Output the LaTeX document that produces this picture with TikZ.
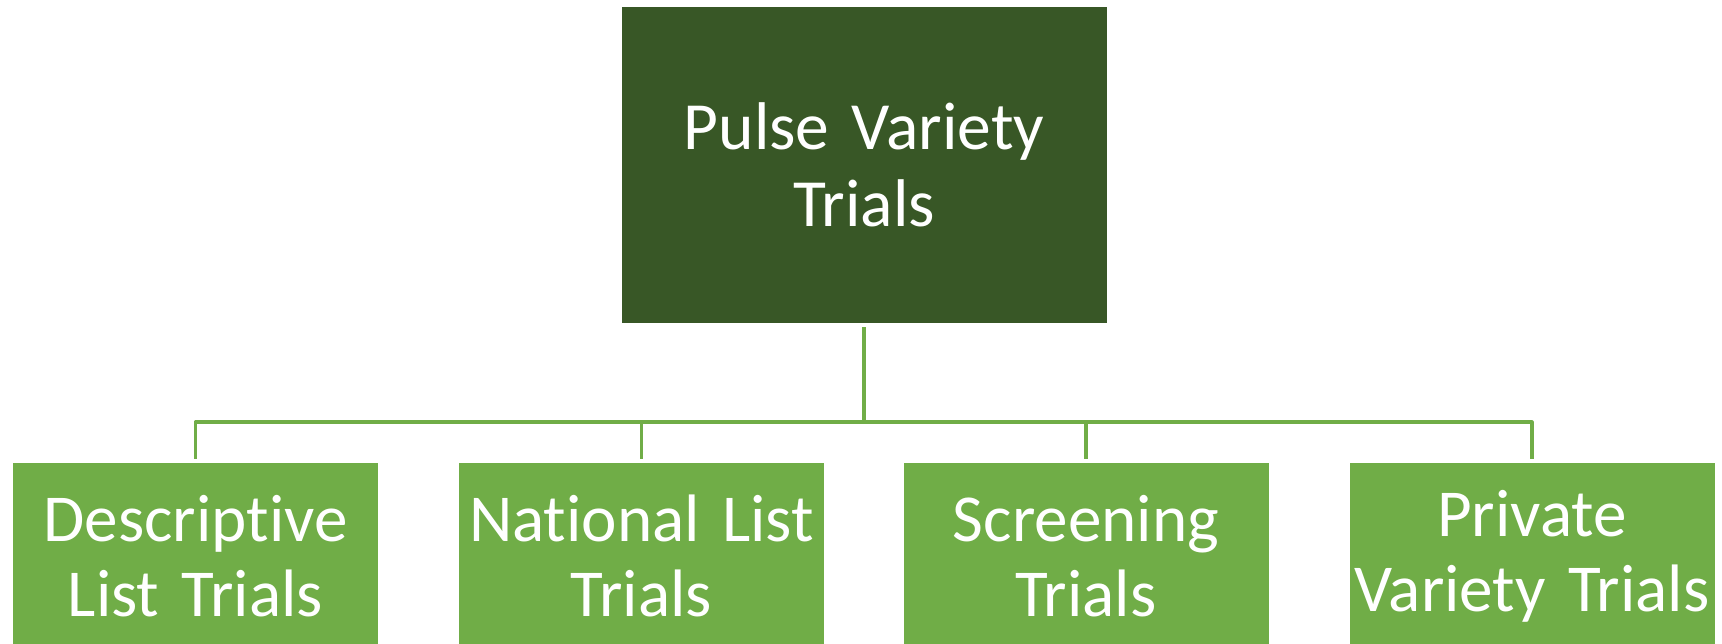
\documentclass[tikz,border=0pt]{standalone}
\usepackage{fontspec}
\setmainfont{Carlito}[Ligatures=NoCommon]
\definecolor{topgreen}{RGB}{56,87,38}
\definecolor{leafgreen}{RGB}{112,173,71}
\tikzset{
  headbox/.style={fill=topgreen,text=white,minimum width=4.85cm,minimum height=3.16cm,
    text width=4.6cm,align=center,font=\fontsize{19.2}{21.9}\selectfont},
  leafbox/.style={fill=leafgreen,text=white,minimum width=3.65cm,minimum height=1.86cm,
    inner xsep=0.02cm,text width=3.6cm,align=center,font=\fontsize{19.1}{21.3}\selectfont},
  link/.style={draw=leafgreen,line width=0.9pt}
}
\begin{document}
\begin{tikzpicture}[line join = round]
				\def \xmax{17.22};
				\def \ymin{-6.43};
				\def \bary{-4.22};
				\useasboundingbox (0,0) rectangle (\xmax,\ymin);
				\node[headbox] (pulse) at (8.64,-1.65) {Pulse Variety\\Trials};
				\node[leafbox] (descriptive) at (1.955,-5.56) {Descriptive\\List Trials};
				\node[leafbox] (national) at (6.415,-5.56) {National List\\Trials};
				\node[leafbox] (screening) at (10.86,-5.56) {Screening\\Trials};
				\node[leafbox] (private) at (15.32,-5.56) {Private\\Variety Trials};
				\coordinate (bus) at (8.64,\bary);
				\draw[link,shorten <=1pt] (pulse.south) -- (bus);
				\foreach \leaf in {descriptive,national,screening,private}
				  \draw[link,shorten <=1pt] (\leaf.north) |- (bus);
			\end{tikzpicture}
\end{document}
